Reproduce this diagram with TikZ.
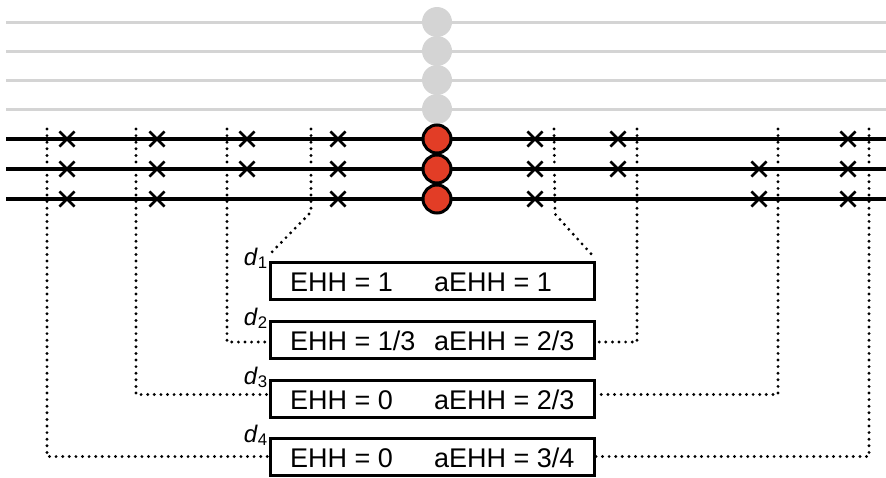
\documentclass[tikz,border=0pt]{standalone}
\usepackage{fontspec}
\setmainfont{Liberation Sans}
\usetikzlibrary{shapes.misc}
\definecolor{hapred}{HTML}{E23D26}
\definecolor{hapgrey}{HTML}{D4D4D4}
\tikzset{
  greyline/.style={draw=hapgrey, line width=3pt},
  blackline/.style={draw=black, line width=3.4pt},
  greydot/.style={circle, fill=hapgrey, minimum size=30pt, inner sep=0pt},
  reddot/.style={circle, fill=hapred, draw=black, line width=3pt, minimum size=28pt, inner sep=0pt},
  xm/.style={cross out, draw=black, line width=2.6pt, minimum size=12.5pt, inner sep=0pt},
  box/.style={draw=black, line width=3pt, minimum width=324pt, minimum height=37pt, inner sep=0pt},
  lbl/.style={anchor=base west, inner sep=0pt, font=\fontsize{27}{30}\selectfont},
  dl/.style={anchor=base east, inner sep=0pt, font=\fontsize{24}{27}\selectfont},
  dots/.style={draw=black, line width=3.2pt, dash pattern=on 0pt off 6.6pt, line cap=round}
}
\begin{document}
\begin{tikzpicture}[x=1pt,y=-1pt]
\useasboundingbox (0,0) rectangle (886,477);
% grey background haplotypes
\foreach \y in {22,51,80,109} \draw[greyline] (6,\y) -- (886,\y);
\foreach \y [count=\i] in {22,51,80,109} \node[greydot] (g\i) at (437,\y) {};
% black haplotypes
\foreach \y in {139,169,199} \draw[blackline] (6,\y) -- (886,\y);
\foreach \y [count=\i] in {139,169,199} \node[reddot] (r\i) at (437,\y) {};
% mutations
\foreach \x/\ys in {67/{139,169,199},157/{139,169,199},247/{139,169},338/{139,169,199},535/{139,169,199},618/{139,169},759/{169,199},848/{139,169,199}}
  {\foreach \y in \ys {\node[xm] (m-\x-\y) at (\x,\y) {};}}
% boxes
\node[box] (b1) at (432,280.5) {};
\node[box] (b2) at (432,339.5) {};
\node[box] (b3) at (432,398.5) {};
\node[box] (b4) at (432,456.5) {};
% texts
\node[lbl] (e1) at (290,291) {EHH = 1};
\node[lbl] (a1) at (434,291) {aEHH = 1};
\node[lbl] (e2) at (290,350) {EHH = 1/3};
\node[lbl] (a2) at (434,350) {aEHH = 2/3};
\node[lbl] (e3) at (290,409) {EHH = 0};
\node[lbl] (a3) at (434,409) {aEHH = 2/3};
\node[lbl] (e4) at (290,467) {EHH = 0};
\node[lbl] (a4) at (434,467) {aEHH = 3/4};
% distance labels
\node[dl] (d1) at (268,265) {\textit{d}\textsubscript{1}};
\node[dl] (d2) at (268,325) {\textit{d}\textsubscript{2}};
\node[dl] (d3) at (268,384) {\textit{d}\textsubscript{3}};
\node[dl] (d4) at (268,442) {\textit{d}\textsubscript{4}};
% dotted connectors
\coordinate (tl1) at (311,129);
\coordinate (tr1) at (554,129);
\coordinate (tl2) at (227,129);
\coordinate (tr2) at (637,129);
\coordinate (tl3) at (136,129);
\coordinate (tr3) at (778,129);
\coordinate (tl4) at (47,129);
\coordinate (tr4) at (869,129);
\coordinate (kl1) at (311,212);
\coordinate (kr1) at (555,214);
\coordinate (el1) at (269,255);
\coordinate (er1) at (593,256);
\draw[dots] (tl1) -- (kl1) -- (el1);
\draw[dots] (tr1) -- (kr1) -- (er1);
\draw[dots] (tl2) |- ([yshift=-2.5pt]b2.west);
\draw[dots] (tr2) |- ([yshift=-2.5pt]b2.east);
\draw[dots] (tl3) |- ([yshift=4pt]b3.west);
\draw[dots] (tr3) |- ([yshift=4pt]b3.east);
\draw[dots] (tl4) |- (b4.west);
\draw[dots] (tr4) |- (b4.east);
\end{tikzpicture}
\end{document}
